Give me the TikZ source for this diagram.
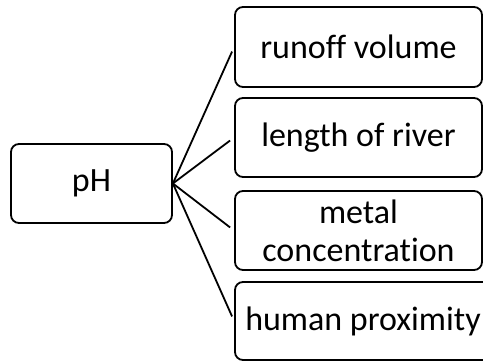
\documentclass[tikz,border=0pt]{standalone}
\usepackage{fontspec}
\setmainfont{Carlito}[Ligatures=NoCommon]
\usepackage{tikz}
\usetikzlibrary{calc}
\tikzset{
	factorbox/.style={draw,line width=1.8pt,rounded corners=8pt,align=center,inner sep=0pt,
		font=\fontsize{34}{38}\selectfont},
	factorline/.style={line width=1.8pt,shorten >=5pt}
}

\begin{document}
\begin{tikzpicture}[x=1pt,y=1pt]
	\coordinate (O) at (0,0);
	
	\useasboundingbox (0,0) rectangle (483,-362);
	\clip (0,0) rectangle (483,-362);
	
	\node[factorbox,minimum width=161,minimum height=79] (ph) at ($(O)+(91.5,-183.5)$) {pH};
	
	\node[factorbox,minimum width=247,minimum height=80] (runoff) at ($(O)+(358.5,-47)$) {runoff volume};
	\node[factorbox,minimum width=247,minimum height=79] (length) at ($(O)+(358.5,-137.5)$) {length of river};
	\node[factorbox,minimum width=247,minimum height=79] (metal) at ($(O)+(358.5,-230.5)$) {metal\\concentration};
	\node[factorbox,minimum width=256,minimum height=78] (human) at ($(O)+(363,-321)$) {human proximity};
	
	\draw[factorline] (ph.east) -- (runoff.west);
	\draw[factorline] (ph.east) -- (length.west);
	\draw[factorline] (ph.east) -- (metal.west);
	\draw[factorline] (ph.east) -- (human.west);
\end{tikzpicture}
\end{document}
